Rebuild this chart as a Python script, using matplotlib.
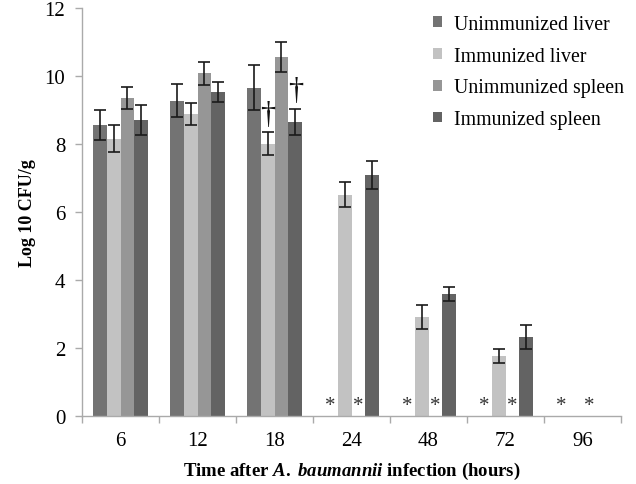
import matplotlib
matplotlib.use("Agg")
import matplotlib.pyplot as plt
import numpy as np
from matplotlib.patches import Patch

plt.rcParams['font.family'] = ['Liberation Serif', 'DejaVu Serif']
plt.rcParams['mathtext.fontset'] = 'custom'
plt.rcParams['mathtext.rm'] = 'Liberation Serif:bold'
plt.rcParams['mathtext.bf'] = 'Liberation Serif:bold'
plt.rcParams['mathtext.it'] = 'Liberation Serif:bold:italic'

categories = ['6', '12', '18', '24', '48', '72', '96']
series_names = ['Unimmunized liver', 'Immunized liver', 'Unimmunized spleen', 'Immunized spleen']
unimm_liver = [8.55, 9.27, 9.65, 0, 0, 0, 0]
imm_liver = [8.15, 8.88, 8.0, 6.5, 2.91, 1.75, 0]
unimm_spleen = [9.35, 10.07, 10.55, 0, 0, 0, 0]
imm_spleen = [8.7, 9.52, 8.65, 7.08, 3.58, 2.32, 0]
err_unimm_liver = [0.43, 0.48, 0.66, 0, 0, 0, 0]
err_imm_liver = [0.40, 0.33, 0.33, 0.37, 0.35, 0.21, 0]
err_unimm_spleen = [0.33, 0.34, 0.43, 0, 0, 0, 0]
err_imm_spleen = [0.45, 0.30, 0.38, 0.40, 0.21, 0.35, 0]
# markers: asterisk (*) for undetectable, dagger for significance
star_unimm_liver = [0, 0, 0, 1, 1, 1, 1]
star_unimm_spleen = [0, 0, 0, 1, 1, 1, 1]
dagger_imm_liver = [0, 0, 1, 0, 0, 0, 0]
dagger_imm_spleen = [0, 0, 1, 0, 0, 0, 0]

values = [unimm_liver, imm_liver, unimm_spleen, imm_spleen]
errors = [err_unimm_liver, err_imm_liver, err_unimm_spleen, err_imm_spleen]
colors = ['#737373', '#c2c2c2', '#969696', '#636363']

fig = plt.figure(figsize=(6.36, 4.85), dpi=100)
ax = fig.add_axes([82/636, 1 - 416.7/485, (621-82)/636, (416.7-8.7)/485])

x = np.arange(len(categories))
w = 0.18
offsets = [-0.27, -0.09, 0.09, 0.27]
for vals, errs, col, off in zip(values, errors, colors, offsets):
    ax.bar(x + off, vals, width=w, color=col, edgecolor='none', zorder=2)
    ev = np.array(vals, dtype=float)
    ee = np.array(errs, dtype=float)
    m = ee > 0
    ax.errorbar((x + off)[m], ev[m], yerr=ee[m], fmt='none', ecolor='#1a1a1a',
                elinewidth=1.2, capsize=4, capthick=1.2, zorder=3)

for flags, off in [(star_unimm_liver, offsets[0]), (star_unimm_spleen, offsets[2])]:
    for i, f in enumerate(flags):
        if f:
            ax.text(x[i] + off, 0.02, '*', ha='center', va='bottom', fontsize=15, color='#333333')

for flags, vals, errs, off in [(dagger_imm_liver, imm_liver, err_imm_liver, offsets[1]),
                               (dagger_imm_spleen, imm_spleen, err_imm_spleen, offsets[3])]:
    for i, f in enumerate(flags):
        if f:
            ax.text(x[i] + off, vals[i] + errs[i] + 0.52, '\u2020', ha='center', va='center',
                    fontsize=22, color='#111111')

ax.set_xlim(-0.5, len(categories) - 0.5)
ax.set_ylim(0, 12)
ax.set_yticks([0, 2, 4, 6, 8, 10, 12])
ax.set_xticks(x)
ax.set_xticklabels(categories)
ax.set_xticks(np.arange(-0.5, len(categories) + 0.5, 1), minor=True)
ax.tick_params(axis='x', which='major', length=0, pad=11, labelsize=15)
ax.tick_params(axis='x', which='minor', length=5, color='#aaaaaa', width=1)
ax.tick_params(axis='y', length=5, color='#aaaaaa', width=1, labelsize=15, pad=7)
for s in ['top', 'right']:
    ax.spines[s].set_visible(False)
for s in ['left', 'bottom']:
    ax.spines[s].set_color('#aaaaaa')
    ax.spines[s].set_linewidth(1)

ax.set_ylabel('Log 10 CFU/g', fontsize=13, fontweight='bold', labelpad=6)
ax.set_xlabel('Time after $\\it{A.\\ baumannii}$ infection (hours)', fontsize=13.5,
              fontweight='bold', labelpad=7)

handles = [Patch(facecolor=c, edgecolor='none') for c in colors]
leg = fig.legend(handles, series_names, loc='upper left', bbox_to_anchor=(415/636, 1 + 2/485),
                 frameon=False, fontsize=14.3, handlelength=0.46, handleheight=0.46,
                 handletextpad=0.6, labelspacing=0.64)

fig.savefig('out.png', dpi=100)
